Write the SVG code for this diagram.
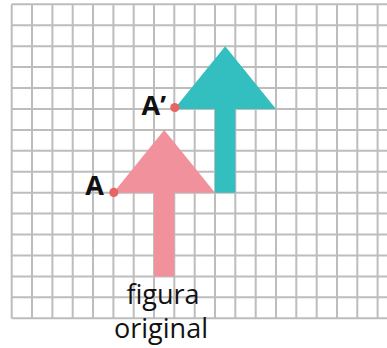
<svg xmlns="http://www.w3.org/2000/svg" width="387" height="348" viewBox="0 0 387 348">
  <style>
    .grid { stroke: #BDBDBD; stroke-width: 2; fill: none; }
    .lbl { font-family: "Open Sans", "Noto Sans", "Liberation Sans", sans-serif; fill: #111; }
    .pt { font-weight: bold; font-size: 27px; }
    .cap { font-size: 27px; text-anchor: middle; font-weight: 500; }
    .dot { fill: #E86464; }
  </style>
  <rect width="387" height="348" fill="#fff"/>
  <g id="grid" class="grid">
    <path d="M11.7 4.3V318.3 M32 4.3V318.3 M52.4 4.3V318.3 M72.7 4.3V318.3 M93 4.3V318.3 M113.4 4.3V318.3 M133.7 4.3V318.3 M154 4.3V318.3 M174.3 4.3V318.3 M194.7 4.3V318.3 M215 4.3V318.3 M235.3 4.3V318.3 M255.7 4.3V318.3 M276 4.3V318.3 M296.3 4.3V318.3 M316.7 4.3V318.3 M337 4.3V318.3 M357.3 4.3V318.3 M377.6 4.3V318.3"/>
    <path d="M11.7 4.3H387 M11.7 25.2H387 M11.7 46.2H387 M11.7 67.1H387 M11.7 88H387 M11.7 109H387 M11.7 129.9H387 M11.7 150.8H387 M11.7 171.7H387 M11.7 192.7H387 M11.7 213.6H387 M11.7 234.5H387 M11.7 255.5H387 M11.7 276.4H387 M11.7 297.3H387 M11.7 318.3H387"/>
  </g>
  <g id="figura-original">
    <polygon points="164.2,129.9 215,192.7 174.3,192.7 174.3,276.4 154,276.4 154,192.7 113.4,192.7" fill="#F0919B"/>
  </g>
  <g id="figura-imagen">
    <polygon points="225.2,46.2 276,109 235.3,109 235.3,192.7 215,192.7 215,109 174.3,109" fill="#33BFBF"/>
  </g>
  <g id="punto-A">
    <circle class="dot" cx="113.8" cy="192.4" r="4.6"/>
    <text class="lbl pt" x="104" y="195" text-anchor="end">A</text>
  </g>
  <g id="punto-A-prima">
    <circle class="dot" cx="174.8" cy="107.5" r="4.6"/>
    <text class="lbl pt" x="166" y="115" text-anchor="end">A’</text>
  </g>
  <g id="etiqueta">
    <text class="lbl cap" x="163" y="303.5">figura</text>
    <text class="lbl cap" x="161" y="337.5">original</text>
  </g>
</svg>
